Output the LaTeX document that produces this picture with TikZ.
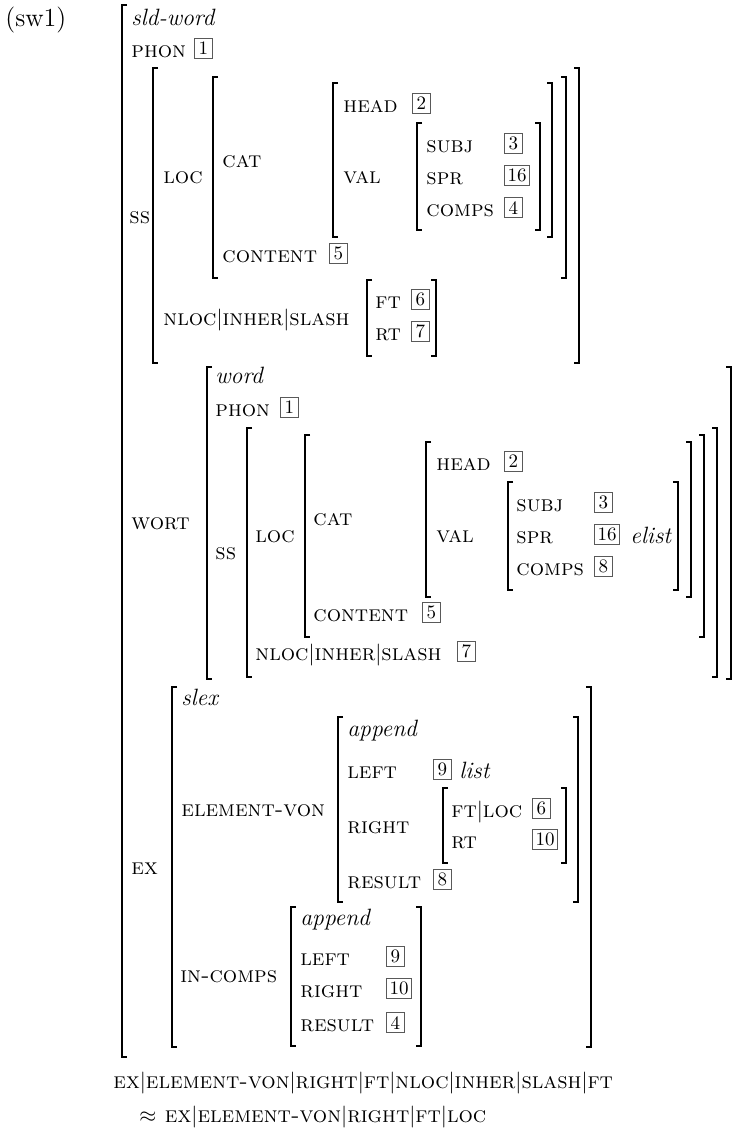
\documentclass[tikz,border=0pt]{standalone}
\newcommand\avmbrk[4]{%
  \draw[brk] ({#1+5},{#3}) -- ({#1},{#3}) -- ({#1},{#4}) -- ({#1+5},{#4});
  \draw[brk] ({#2-5},{#3}) -- ({#2},{#3}) -- ({#2},{#4}) -- ({#2-5},{#4});}
\newcommand\avmlbrk[3]{%
  \draw[brk] ({#1+5},{#2}) -- ({#1},{#2}) -- ({#1},{#3}) -- ({#1+5},{#3});}
\begin{document}
\begin{tikzpicture}[x=0.5pt,y=-0.5pt,
  lab/.style={anchor=base west, inner sep=0pt, font=\fontsize{13}{15}\selectfont},
  atr/.style={lab, font=\fontsize{11.3}{13}\selectfont\scshape},
  typ/.style={lab, font=\fontsize{11.8}{13}\selectfont\itshape},
  tag/.style={draw=black!65, line width=0.4pt, anchor=south west, inner xsep=1.6pt,
    inner ysep=0pt, minimum height=10pt, minimum width=9pt,
    font=\fontsize{9.5}{10}\selectfont},
  brk/.style={line width=0.7pt, line cap=butt}]
\useasboundingbox (0,0) rectangle (738,1132);
% ---------- top matrix ----------
\node[lab] (sw) at (5,26) {(sw1)};
\avmlbrk{122}{5}{1057}
\node[typ] (sldword) at (131,25) {sld-word};
\node[atr] (phon1) at (131,57) {phon};
\node[tag] (t1a) at (194,59) {1};
\node[atr] (ss1) at (129,223) {ss};
\avmbrk{153}{579}{68}{363}
\node[atr] (loc1) at (163,183) {loc};
\avmbrk{213}{566}{77}{278}
\node[atr] (cat1) at (222,167) {cat};
\avmbrk{333}{552}{83}{237}
\node[atr] (head1) at (343,112) {head};
\node[tag] (t2a) at (412,114) {2};
\node[atr] (val1) at (343,183) {val};
\avmbrk{417}{540}{123}{230}
\node[atr] (subj1) at (426,152) {subj};
\node[tag] (t3a) at (504,154) {3};
\node[atr] (spr1) at (426,184) {spr};
\node[tag] (t16a) at (504,186) {16};
\node[atr] (comps1) at (426,216) {comps};
\node[tag] (t4a) at (504,218) {4};
\node[atr] (cont1) at (222,262) {content};
\node[tag] (t5a) at (329,264) {5};
\node[atr] (nloc1) at (163,325) {nloc$|$inher$|$slash};
\avmbrk{367}{436}{280}{356}
\node[atr] (ft1) at (375,308) {ft};
\node[tag] (t6a) at (411,310) {6};
\node[atr] (rt1) at (375,340) {rt};
\node[tag] (t7a) at (411,342) {7};
% ---------- WORT ----------
\node[atr] (wort) at (131,529) {wort};
\avmbrk{207}{731}{367}{679}
\node[typ] (word) at (215,383) {word};
\node[atr] (phon2) at (215,416) {phon};
\node[tag] (t1b) at (280,418) {1};
\node[atr] (ss2) at (215,559) {ss};
\avmbrk{247}{717}{428}{677}
\node[atr] (loc2) at (255,542) {loc};
\avmbrk{305}{704}{435}{637}
\node[atr] (cat2) at (313,525) {cat};
\avmbrk{426}{691}{442}{597}
\node[atr] (head2) at (436,470) {head};
\node[tag] (t2b) at (504,472) {2};
\node[atr] (val2) at (436,542) {val};
\avmbrk{508}{678}{482}{590}
\node[atr] (subj2) at (516,511) {subj};
\node[tag] (t3b) at (594,513) {3};
\node[atr] (spr2) at (516,543) {spr};
\node[tag] (t16b) at (594,545) {16};
\node[typ] (elist) at (630,543) {elist};
\node[atr] (comps2) at (516,575) {comps};
\node[tag] (t8a) at (594,577) {8};
\node[atr] (cont2) at (313,621) {content};
\node[tag] (t5b) at (422,623) {5};
\node[atr] (nloc2) at (255,660) {nloc$|$inher$|$slash};
\node[tag] (t7b) at (457,662) {7};
% ---------- EX ----------
\node[atr] (ex) at (131,874) {ex};
\avmbrk{172}{591}{687}{1047}
\node[typ] (slex) at (181,705) {slex};
\node[atr] (elvon) at (181,816) {element-von};
\avmbrk{338}{578}{717}{902}
\node[typ] (app1) at (347,736) {append};
\node[atr] (left1) at (347,778) {left};
\node[tag] (t9a) at (433,780) {9};
\node[typ] (list) at (459,778) {list};
\node[atr] (right1) at (347,833) {right};
\avmbrk{443}{566}{788}{863}
\node[atr] (ftloc) at (451,817) {ft$|$loc};
\node[tag] (t6b) at (532,819) {6};
\node[atr] (rt2) at (451,848) {rt};
\node[tag] (t10a) at (532,850) {10};
\node[atr] (res1) at (347,888) {result};
\node[tag] (t8b) at (433,890) {8};
\node[atr] (incomps) at (180,982) {in-comps};
\avmbrk{291}{421}{907}{1046}
\node[typ] (app2) at (300,925) {append};
\node[atr] (left2) at (300,965) {left};
\node[tag] (t9b) at (386,967) {9};
\node[atr] (right2) at (300,997) {right};
\node[tag] (t10b) at (386,999) {10};
\node[atr] (res2) at (300,1031) {result};
\node[tag] (t4b) at (386,1033) {4};
% ---------- path equation ----------
\node[atr] (path1) at (113,1088) {ex$|$element-von$|$right$|$ft$|$nloc$|$inher$|$slash$|$ft};
\node[atr] (path2) at (139,1122) {$\approx$ ex$|$element-von$|$right$|$ft$|$loc};
\end{tikzpicture}
\end{document}
